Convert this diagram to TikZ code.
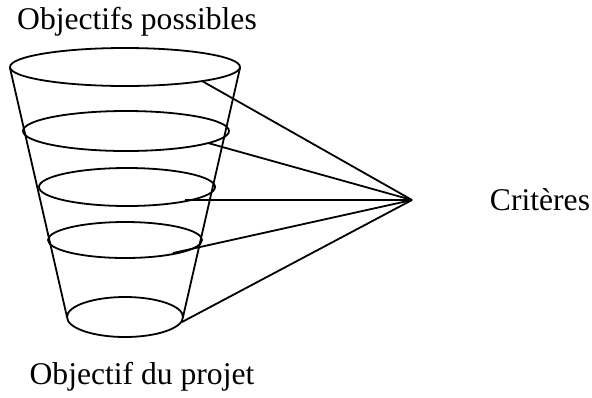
\documentclass[tikz,border=0pt]{standalone}
\usepackage{fontspec}
\setmainfont{Liberation Serif}
\usetikzlibrary{positioning}
\tikzset{font=\fontsize{15.8}{19}\selectfont}
\tikzset{every picture/.style={line width=0.9pt}}

\begin{document}
\begin{tikzpicture}[x=0.5pt,y=-0.5pt]
\useasboundingbox (0,0) rectangle (592,397);
% the cone levels
\coordinate (L1) at (125,67);
\coordinate (L2) at (126,131);
\coordinate (L3) at (127,187);
\coordinate (L4) at (125,240);
\coordinate (L5) at (125,317);
\draw (L1) ellipse [x radius=115,y radius=19];
\draw (L2) ellipse [x radius=103,y radius=20];
\draw (L3) ellipse [x radius=88,y radius=19];
\draw (L4) ellipse [x radius=77,y radius=18];
\draw (L5) ellipse [x radius=58,y radius=20];
% sides of the cone
\coordinate (TL) at (10,68);
\coordinate (TR) at (240,68);
\coordinate (BL) at (67,317);
\coordinate (BR) at (183,317);
\draw (TL) -- (BL);
\draw (TR) -- (BR);
% criteria point
\coordinate (P) at (412,200);
\coordinate (a1) at (202,81);
\coordinate (a2) at (208,143);
\coordinate (a3) at (185,200);
\coordinate (a4) at (173,253);
\coordinate (a5) at (182,322);
\path[draw]
(a1) edge (P)
(a2) edge (P)
(a3) edge (P)
(a4) edge (P)
(a5) edge (P);
\node (top) at (137,22) {Objectifs possibles};
\node (crit) at (540,200) {Critères};
\node (bot) at (142,377) {Objectif du projet};
\end{tikzpicture}
\end{document}
